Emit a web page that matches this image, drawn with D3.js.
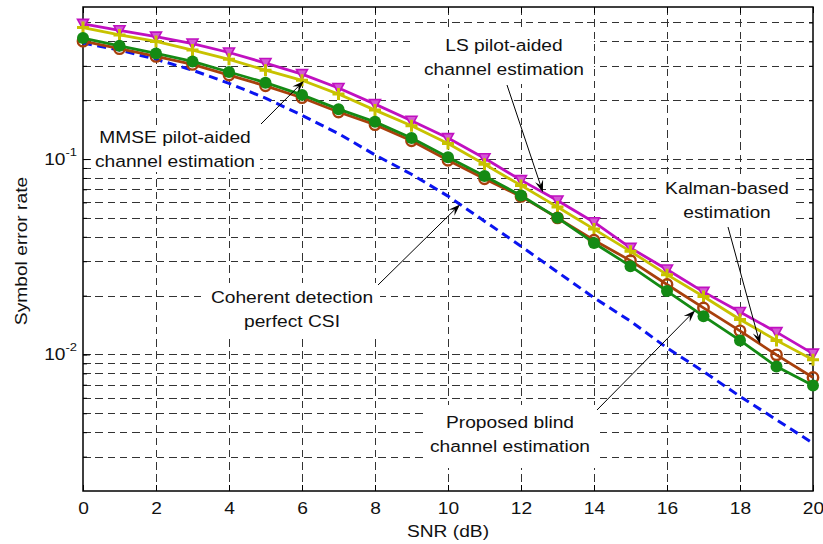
<!DOCTYPE html>
<html>
<head>
<meta charset="utf-8">
<script src="https://cdn.jsdelivr.net/npm/d3@7"></script>
<style>
  html, body { margin: 0; padding: 0; background: #fff; }
  svg { display: block; font-family: "Liberation Sans", Arial, Helvetica, sans-serif; }
</style>
</head>
<body>
<svg id="chart" width="823" height="544"></svg>
<script>
// SNR points (dB)
const snr = [0, 1, 2, 3, 4, 5, 6, 7, 8, 9, 10, 11, 12, 13, 14, 15, 16, 17, 18, 19, 20];

// Symbol error rate per estimator
const lsPilot = [0.492, 0.456, 0.423, 0.390, 0.351, 0.310, 0.272, 0.231, 0.191, 0.157, 0.128,
                 0.101, 0.078, 0.0614, 0.0475, 0.0351, 0.0272, 0.0209, 0.0165, 0.0130, 0.0101];
const mmsePilot = [0.471, 0.432, 0.400, 0.361, 0.324, 0.285, 0.253, 0.215, 0.178, 0.148, 0.120,
                   0.094, 0.0733, 0.0568, 0.0438, 0.0337, 0.0256, 0.0198, 0.0151, 0.0118, 0.0094];
const kalman = [0.401, 0.367, 0.335, 0.305, 0.269, 0.237, 0.206, 0.174, 0.150, 0.124, 0.0985,
                0.0792, 0.0644, 0.0500, 0.0384, 0.0302, 0.0228, 0.0173, 0.0132, 0.00995, 0.00762];
const blind = [0.416, 0.380, 0.347, 0.316, 0.279, 0.246, 0.213, 0.180, 0.155, 0.128, 0.102,
               0.0818, 0.0651, 0.0500, 0.0372, 0.0283, 0.0211, 0.0157, 0.0118, 0.00867, 0.00693];
const coherent = [0.392, 0.361, 0.324, 0.285, 0.244, 0.205, 0.1675, 0.1349, 0.105, 0.0836, 0.0646,
                  0.0481, 0.0358, 0.0264, 0.0195, 0.0148, 0.0108, 0.00818, 0.00610, 0.00463, 0.00351];

// Axis ticks
const xTicks = [0, 2, 4, 6, 8, 10, 12, 14, 16, 18, 20];
const yGrid = [0.003, 0.004, 0.005, 0.006, 0.007, 0.008, 0.009,
               0.01, 0.02, 0.03, 0.04, 0.05, 0.06, 0.07, 0.08, 0.09,
               0.1, 0.2, 0.3, 0.4, 0.5];
const yLabelTicks = [0.01, 0.1];
const yDomain = [0.002, 0.6];

const xLabel = "SNR (dB)";
const yLabel = "Symbol error rate";

const SX = 1.13;           // horizontal text stretch
const FONT = 17;

const svg = d3.select("#chart");
const plotL = 83, plotR = 813, plotT = 7, plotB = 491;

const x = d3.scaleLinear().domain([0, 20]).range([plotL, plotR]);
const y = d3.scaleLog().domain(yDomain).range([plotB, plotT]);

// ---- grid ----
const grid = svg.append("g").attr("class", "grid")
  .attr("stroke", "#333").attr("stroke-width", 1)
  .attr("stroke-dasharray", "7.5,4.8").attr("shape-rendering", "crispEdges");
grid.selectAll("line.v").data(xTicks.filter(d => d > 0 && d < 20)).join("line")
  .attr("class", "v")
  .attr("x1", d => Math.round(x(d)) + 0.5).attr("x2", d => Math.round(x(d)) + 0.5)
  .attr("y1", plotT).attr("y2", plotB);
grid.selectAll("line.h").data(yGrid).join("line")
  .attr("class", "h")
  .attr("x1", plotL).attr("x2", plotR)
  .attr("y1", d => Math.round(y(d)) + 0.5).attr("y2", d => Math.round(y(d)) + 0.5);

// ---- annotation boxes (white background behind the text) ----
const notes = [
  { lines: ["MMSE pilot-aided", "channel estimation"], cx: 175, base: 142.7,
    box: [91, 125, 260, 172], tail: [261, 124], series: mmsePilot, at: 6.05 },
  { lines: ["LS pilot-aided", "channel estimation"], cx: 504, base: 50.7,
    box: [415, 30, 594, 84], tail: [507, 85], series: lsPilot, at: 12.6 },
  { lines: ["Kalman-based", "estimation"], cx: 727, base: 193.5,
    box: [660, 177, 792, 226], tail: [728, 227], series: kalman, at: 18.55 },
  { lines: ["Coherent detection", "perfect CSI"], cx: 292, base: 303.3,
    box: [203, 283, 380, 335], tail: [378, 285], series: coherent, at: 10.33 },
  { lines: ["Proposed blind", "channel estimation"], cx: 510, base: 428.3,
    box: [427, 405, 597, 468], tail: [597, 410], series: blind, at: 16.77 }
];

svg.append("g").selectAll("rect").data(notes).join("rect")
  .attr("x", d => d.box[0]).attr("y", d => d.box[1])
  .attr("width", d => d.box[2] - d.box[0]).attr("height", d => d.box[3] - d.box[1])
  .attr("fill", "#fff");

// ---- axis box and ticks ----
svg.append("rect")
  .attr("x", plotL).attr("y", plotT).attr("width", plotR - plotL).attr("height", plotB - plotT)
  .attr("fill", "none").attr("stroke", "#000").attr("stroke-width", 1.5);

const xAxisB = svg.append("g").attr("transform", `translate(0,${plotB})`)
  .call(d3.axisBottom(x).tickValues(xTicks).tickSizeInner(-6).tickSizeOuter(0).tickFormat(d3.format("d")));
const xAxisT = svg.append("g").attr("transform", `translate(0,${plotT})`)
  .call(d3.axisTop(x).tickValues(xTicks).tickSizeInner(-6).tickSizeOuter(0).tickFormat(""));
const yAxisL = svg.append("g").attr("transform", `translate(${plotL},0)`)
  .call(d3.axisLeft(y).tickValues(yGrid).tickSizeInner(-4).tickSizeOuter(0).tickFormat(""));
const yAxisR = svg.append("g").attr("transform", `translate(${plotR},0)`)
  .call(d3.axisRight(y).tickValues(yGrid).tickSizeInner(-4).tickSizeOuter(0).tickFormat(""));
const yAxisLM = svg.append("g").attr("transform", `translate(${plotL},0)`)
  .call(d3.axisLeft(y).tickValues(yLabelTicks).tickSizeInner(-7).tickSizeOuter(0).tickFormat(""));
const yAxisRM = svg.append("g").attr("transform", `translate(${plotR},0)`)
  .call(d3.axisRight(y).tickValues(yLabelTicks).tickSizeInner(-7).tickSizeOuter(0).tickFormat(""));

[xAxisB, xAxisT, yAxisL, yAxisR, yAxisLM, yAxisRM].forEach(g => {
  g.select(".domain").remove();
  g.selectAll(".tick line").attr("stroke", "#000").attr("stroke-width", 1);
});

xAxisB.selectAll(".tick text")
  .attr("y", null).attr("dy", null)
  .attr("transform", `translate(0,23) scale(${SX},1)`)
  .attr("font-size", FONT).attr("fill", "#111")
  .attr("font-family", "Liberation Sans, Arial, sans-serif");

// y labels as powers of ten
const yl = svg.append("g").attr("fill", "#111");
yLabelTicks.forEach(v => {
  const yy = y(v);
  const exp = Math.round(Math.log10(v));
  yl.append("text")
    .attr("transform", `translate(65.5,${yy + 5.5}) scale(${SX},1)`)
    .attr("text-anchor", "end").attr("font-size", FONT).text("10");
  yl.append("text")
    .attr("transform", `translate(65.5,${yy - 3.5}) scale(${SX},1)`)
    .attr("text-anchor", "start").attr("font-size", 11.5).text(String(exp));
});

// axis titles
svg.append("text")
  .attr("transform", `translate(${(plotL + plotR) / 2},537) scale(${SX},1)`)
  .attr("text-anchor", "middle").attr("font-size", FONT).attr("fill", "#111").text(xLabel);
svg.append("text")
  .attr("transform", `translate(27,${(plotT + plotB) / 2 + 2}) rotate(-90) scale(${SX},1)`)
  .attr("text-anchor", "middle").attr("font-size", FONT).attr("fill", "#111").text(yLabel);

// ---- curves ----
const line = d3.line().x((d, i) => x(snr[i])).y(d => y(d));

const plot = svg.append("g");

// theoretical coherent curve (dashed, no markers)
plot.append("path").datum(coherent)
  .attr("d", line).attr("fill", "none")
  .attr("stroke", "#0a14f0").attr("stroke-width", 3)
  .attr("stroke-dasharray", "9,5.5");

const series = [
  { data: lsPilot, color: "#c010c0", marker: "tri" },
  { data: mmsePilot, color: "#c8c200", marker: "plus" },
  { data: kalman, color: "#a8400c", marker: "ring" },
  { data: blind, color: "#148a14", marker: "dot" }
];

series.forEach(s => {
  const g = plot.append("g");
  g.append("path").datum(s.data)
    .attr("d", line).attr("fill", "none")
    .attr("stroke", s.color).attr("stroke-width", 2.8).attr("stroke-linejoin", "round");
  const pts = g.selectAll("g.m").data(s.data).join("g")
    .attr("class", "m")
    .attr("transform", (d, i) => `translate(${x(snr[i])},${y(d)})`);
  if (s.marker === "tri") {
    pts.append("path").attr("d", "M-5.5,-4.5L5.5,-4.5L0,5.5Z")
      .attr("fill", "#d459d4").attr("stroke", s.color).attr("stroke-width", 1.6);
  } else if (s.marker === "plus") {
    pts.append("path").attr("d", "M-6,0H6M0,-6V6")
      .attr("stroke", s.color).attr("stroke-width", 3);
  } else if (s.marker === "ring") {
    pts.append("circle").attr("r", 5.2)
      .attr("fill", "none").attr("stroke", s.color).attr("stroke-width", 2.4);
  } else {
    pts.append("circle").attr("r", 6).attr("fill", s.color);
  }
});

// ---- annotation arrows and text ----
function pointOn(data, at) {
  const i = Math.min(Math.floor(at), snr.length - 2);
  const t = at - snr[i];
  const y0 = y(data[i]), y1 = y(data[i + 1]);
  return [x(at), y0 + (y1 - y0) * t];
}

const ann = svg.append("g");
notes.forEach(n => {
  const [tx, ty] = pointOn(n.series, n.at);
  const [sx, sy] = n.tail;
  const dx = tx - sx, dy = ty - sy;
  const len = Math.hypot(dx, dy);
  const ux = dx / len, uy = dy / len;
  const nx = -uy, ny = ux;
  const L = 12, Wd = 4.2;
  const bx = tx - ux * L, by = ty - uy * L;
  const kx = tx - ux * L * 0.62, ky = ty - uy * L * 0.62;
  ann.append("line")
    .attr("x1", sx).attr("y1", sy).attr("x2", kx).attr("y2", ky)
    .attr("stroke", "#000").attr("stroke-width", 1);
  ann.append("path")
    .attr("d", `M${tx},${ty}L${bx + nx * Wd},${by + ny * Wd}L${kx},${ky}L${bx - nx * Wd},${by - ny * Wd}Z`)
    .attr("fill", "#000");
  n.lines.forEach((t, k) => {
    ann.append("text")
      .attr("transform", `translate(${n.cx},${n.base + k * 24}) scale(${SX},1)`)
      .attr("text-anchor", "middle").attr("font-size", FONT).attr("fill", "#111")
      .text(t);
  });
});
</script>
</body>
</html>
